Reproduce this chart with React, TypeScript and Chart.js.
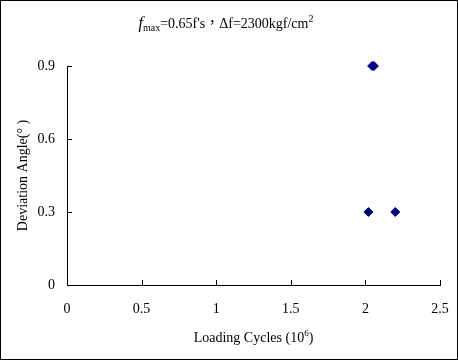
import React, { useEffect, useRef } from "react";
import { Chart, registerables } from "chart.js";

Chart.register(...registerables);

const seriesX = [2.045, 2.057, 2.02, 2.2];
const seriesY = [0.9, 0.9, 0.3, 0.3];
const xTicks = [0, 0.5, 1, 1.5, 2, 2.5];
const yTicks = [0, 0.3, 0.6, 0.9];
const yTitle = "Deviation Angle(° )";
const xTitleMain = "Loading Cycles (10";
const xTitleSup = "6";
const xTitleEnd = ")";

const SERIF = '"Liberation Serif", "Times New Roman", serif';

const decorPlugin = {
  id: "decor",
  afterDraw(chart: any) {
    const ctx = chart.ctx as CanvasRenderingContext2D;
    const ca = chart.chartArea;
    const xs = chart.scales.x;
    const ys = chart.scales.y;
    ctx.save();
    // outer border
    ctx.strokeStyle = "#000";
    ctx.lineWidth = 1;
    ctx.strokeRect(0.5, 0.5, chart.width - 1, chart.height - 1);
    // inside ticks
    ctx.beginPath();
    for (const v of xTicks) {
      const px = Math.round(xs.getPixelForValue(v)) + 0.5;
      ctx.moveTo(px, ca.bottom);
      ctx.lineTo(px, ca.bottom - 5);
    }
    for (const v of yTicks) {
      const py = Math.round(ys.getPixelForValue(v)) + 0.5;
      ctx.moveTo(ca.left, py);
      ctx.lineTo(ca.left + 5, py);
    }
    ctx.stroke();

    ctx.fillStyle = "#000";
    ctx.textBaseline = "alphabetic";
    // chart title with sub/superscripts
    const parts = [
      { t: "f", f: `italic 16px ${SERIF}`, dy: 0 },
      { t: "max", f: `10px ${SERIF}`, dy: 3 },
      { t: "=0.65f's", f: `14px ${SERIF}`, dy: 0 },
      { t: "，", f: `14px "Noto Sans CJK TC"`, dy: -1 },
      { t: "Δf=2300kgf/cm", f: `14px ${SERIF}`, dy: 0 },
      { t: "2", f: `10px ${SERIF}`, dy: -6 },
    ];
    let total = 0;
    for (const p of parts) {
      ctx.font = p.f;
      total += ctx.measureText(p.t).width;
    }
    let x = 226 - total / 2;
    ctx.textAlign = "left";
    for (const p of parts) {
      ctx.font = p.f;
      ctx.fillText(p.t, x, 28 + p.dy);
      x += ctx.measureText(p.t).width;
    }

    // x axis title
    const cx = (ca.left + ca.right) / 2;
    ctx.font = `14px ${SERIF}`;
    const w1 = ctx.measureText(xTitleMain).width;
    const w3 = ctx.measureText(xTitleEnd).width;
    ctx.font = `9px ${SERIF}`;
    const w2 = ctx.measureText(xTitleSup).width;
    let sx = cx - (w1 + w2 + w3) / 2;
    ctx.font = `14px ${SERIF}`;
    ctx.fillText(xTitleMain, sx, 342);
    sx += w1;
    ctx.font = `9px ${SERIF}`;
    ctx.fillText(xTitleSup, sx, 336);
    sx += w2;
    ctx.font = `14px ${SERIF}`;
    ctx.fillText(xTitleEnd, sx, 342);

    // y axis title
    ctx.translate(27, (ca.top + ca.bottom) / 2);
    ctx.rotate(-Math.PI / 2);
    ctx.textAlign = "center";
    ctx.font = `14px ${SERIF}`;
    ctx.fillText(yTitle, 0, 0);
    ctx.restore();
  },
};

export default function App() {
  const ref = useRef<HTMLCanvasElement | null>(null);
  useEffect(() => {
    document.body.style.margin = "0";
    const chart = new Chart(ref.current!, {
      type: "scatter",
      data: {
        datasets: [
          {
            data: seriesX.map((x, i) => ({ x, y: seriesY[i] })),
            pointStyle: "rectRot",
            radius: 4.5,
            backgroundColor: "#000080",
            borderColor: "#000080",
            borderWidth: 1,
            clip: false as any,
          },
        ],
      },
      options: {
        animation: false,
        responsive: true,
        maintainAspectRatio: false,
        layout: { padding: { left: 0, top: 66, right: 18, bottom: 0 } },
        plugins: { legend: { display: false }, tooltip: { enabled: false }, title: { display: false } },
        scales: {
          x: {
            type: "linear",
            min: 0,
            max: 2.5,
            afterBuildTicks: (s: any) => {
              s.ticks = xTicks.map((v) => ({ value: v }));
            },
            afterFit: (s: any) => {
              s.height = 75;
              s.paddingRight = 0;
              s.paddingLeft = 0;
            },
            ticks: {
              padding: 16,
              color: "#000",
              font: { family: SERIF, size: 14 },
              callback: (v: any) => String(v),
            },
            grid: { display: true, drawOnChartArea: false, drawTicks: false, color: "rgba(0,0,0,0)" },
            border: { display: true, color: "#000", width: 1 },
          },
          y: {
            type: "linear",
            min: 0,
            max: 0.9,
            afterBuildTicks: (s: any) => {
              s.ticks = yTicks.map((v) => ({ value: v }));
            },
            afterFit: (s: any) => {
              s.width = 67;
              s.paddingTop = 0;
              s.paddingBottom = 0;
            },
            ticks: {
              padding: 12,
              color: "#000",
              font: { family: SERIF, size: 14 },
              callback: (v: any) => String(v),
            },
            grid: { display: true, drawOnChartArea: false, drawTicks: false, color: "rgba(0,0,0,0)" },
            border: { display: true, color: "#000", width: 1 },
          },
        },
      },
      plugins: [decorPlugin],
    });
    return () => chart.destroy();
  }, []);
  return (
    <div style={{ position: "absolute", left: 0, top: 0, width: 458, height: 360, background: "#fff" }}>
      <canvas ref={ref} />
    </div>
  );
}
